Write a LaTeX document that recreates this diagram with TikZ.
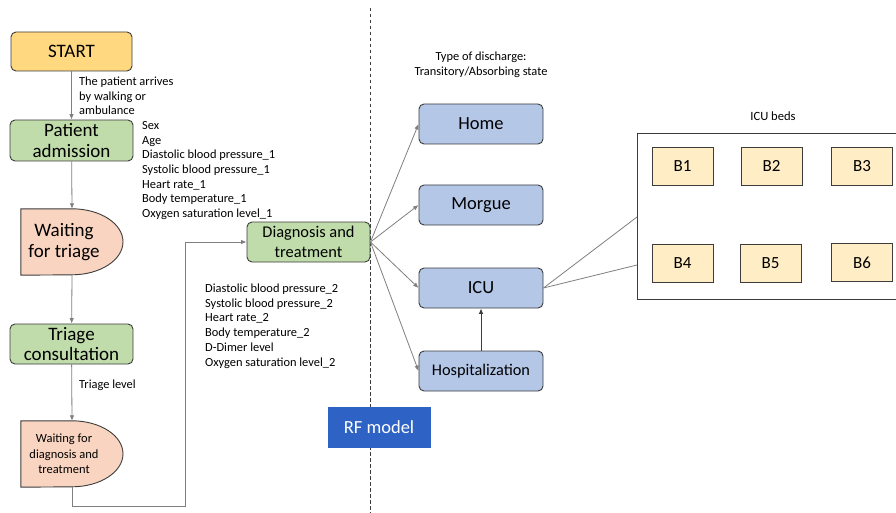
\documentclass[tikz,border=0pt]{standalone}
\usepackage{fontspec}
\setmainfont{Carlito}
\usetikzlibrary{arrows.meta,calc}
\definecolor{startfill}{HTML}{FFD87F}
\definecolor{greenfill}{HTML}{C0DCAA}
\definecolor{waitfill}{HTML}{F9D5C1}
\definecolor{bluefill}{HTML}{B4C7E7}
\definecolor{bedfill}{HTML}{FEEDC5}
\definecolor{rffill}{HTML}{2E62C4}
\definecolor{edgec}{HTML}{3C3C3C}
\definecolor{connc}{HTML}{7F7F7F}
\begin{document}
\begin{tikzpicture}[x=1pt,y=-1pt,
  box/.style={draw=edgec, line width=0.9pt, rounded corners=5pt, align=center, inner sep=0pt},
  bigtxt/.style={font=\fontsize{19}{21.5}\selectfont},
  midtxt/.style={font=\fontsize{16.4}{19.5}\selectfont},
  statetxt/.style={font=\fontsize{18.5}{21}\selectfont},
  smalltxt/.style={font=\fontsize{12.4}{14.7}\selectfont, align=left, inner sep=0pt},
  greenbox/.style={box, fill=greenfill, minimum width=123pt, minimum height=40pt},
  bluebox/.style={box, fill=bluefill, minimum width=124pt, minimum height=40pt, statetxt},
  bedbox/.style={draw=edgec, line width=0.8pt, fill=bedfill, minimum width=61pt, minimum height=38pt, inner sep=0pt, font=\fontsize{17}{19}\selectfont},
  delayframe/.style={minimum width=102pt, minimum height=66pt, inner sep=0pt, draw=none},
  delayfill/.style={draw=edgec, line width=0.9pt, fill=waitfill},
  conn/.style={draw=connc, line width=0.8pt, -{Triangle[length=5pt,width=4pt]}, shorten >=0.5pt},
  plain/.style={draw=connc, line width=0.8pt},
  dashline/.style={draw=edgec, line width=0.8pt, dash pattern=on 3.5pt off 2.5pt}
]
\useasboundingbox (0,0) rectangle (896,513);
\clip (0,0) rectangle (896,513);

% dividing line between the patient flow and the discharge states
\coordinate (dtop) at (370,8);
\coordinate (dbot) at (370,513);
\draw[dashline] (dtop) -- (dbot);

% patient flow
\node[box, fill=startfill, minimum width=121pt, minimum height=39pt, bigtxt] (start) at (71.5,51.5) {START};
\node[greenbox, minimum height=41pt, bigtxt] (adm) at (71.5,140.5) {Patient\\[-1pt]admission};

\node[delayframe] (wt) at (72,242) {};
\draw[delayfill] (wt.north west) -- (wt.north) arc[start angle=-90, end angle=90, x radius=51, y radius=33] -- (wt.south west) -- cycle;
\node[bigtxt, align=center, inner sep=0pt] (wtlabel) at (64,242) {Waiting\\[-1pt]for triage};

\node[greenbox, bigtxt] (tri) at (71.5,344) {Triage\\[-1pt]consultation};

\node[delayframe] (wd) at (72,454) {};
\draw[delayfill] (wd.north west) -- (wd.north) arc[start angle=-90, end angle=90, x radius=51, y radius=33] -- (wd.south west) -- cycle;
\node[font=\fontsize{12.5}{15.5}\selectfont, align=center, inner sep=0pt] (wdlabel) at (64,454) {Waiting for\\diagnosis and\\treatment};

\node[greenbox, midtxt] (diag) at (308.5,242) {Diagnosis and\\treatment};

% flow connectors
\draw[conn] (start) -- (adm);
\draw[conn] (adm) -- (wt.north);
\draw[conn] (wt.south) -- (tri);
\draw[conn] (tri) -- (wd.north);
\coordinate (turn) at (185,506);
\draw[conn] (wd.south) |- (turn) |- (diag.west);

% variables collected along the way (anchored at the baseline of the last line)
\node[smalltxt, anchor=base west, font=\fontsize{12.4}{14.5}\selectfont] (arrive) at (79,115) {The patient arrives\\by walking or\\ambulance};
\node[smalltxt, anchor=base west] (vars1) at (142,217.5) {Sex\\Age\\Diastolic blood pressure\_1\\Systolic blood pressure\_1\\Heart rate\_1\\Body temperature\_1\\Oxygen saturation level\_1};
\node[smalltxt, anchor=base west] (trilevel) at (79,388) {Triage level};
\node[smalltxt, anchor=base west] (vars2) at (205,366) {Diastolic blood pressure\_2\\Systolic blood pressure\_2\\Heart rate\_2\\Body temperature\_2\\D-Dimer level\\Oxygen saturation level\_2};

% model
\node[fill=rffill, draw=rffill, minimum width=102pt, minimum height=40pt, inner sep=0pt, text=white, statetxt] (rf) at (379,427) {RF model};

% discharge states
\node[font=\fontsize{12.4}{14.5}\selectfont, align=center, inner sep=0pt, anchor=base] (disch) at (481,75.5) {Type of discharge:\\Transitory/Absorbing state};
\node[bluebox] (home) at (481,124) {Home};
\node[bluebox] (morgue) at (481,205) {Morgue};
\node[bluebox] (icu) at (481,288) {ICU};
\node[bluebox, font=\fontsize{16.3}{19}\selectfont] (hosp) at (481,371) {Hospitalization};

\draw[conn] (diag.east) -- (home.west);
\draw[conn] (diag.east) -- (morgue.west);
\draw[conn] (diag.east) -- (icu.west);
\draw[conn] (diag.east) -- (hosp.west);
\draw[conn, draw=edgec, line width=1pt] (hosp) -- (icu);

% ICU beds
\node[font=\fontsize{12.6}{14}\selectfont, inner sep=0pt, anchor=base] (bedslabel) at (773,121) {ICU beds};
\node[draw=edgec, line width=0.9pt, minimum width=268pt, minimum height=166pt, inner sep=0pt] (beds) at (771,216) {};
\node[bedbox] (b1) at (682.5,166) {B1};
\node[bedbox] (b2) at (771.5,166) {B2};
\node[bedbox] (b3) at (862,166) {B3};
\node[bedbox] (b4) at (682.5,263.5) {B4};
\node[bedbox] (b5) at (770.5,263.5) {B5};
\node[bedbox] (b6) at (862,262.5) {B6};

\coordinate (bedin1) at (637,217);
\coordinate (bedin2) at (637,265);
\draw[plain] (icu.east) -- (bedin1);
\draw[plain] (icu.east) -- (bedin2);
\end{tikzpicture}
\end{document}
